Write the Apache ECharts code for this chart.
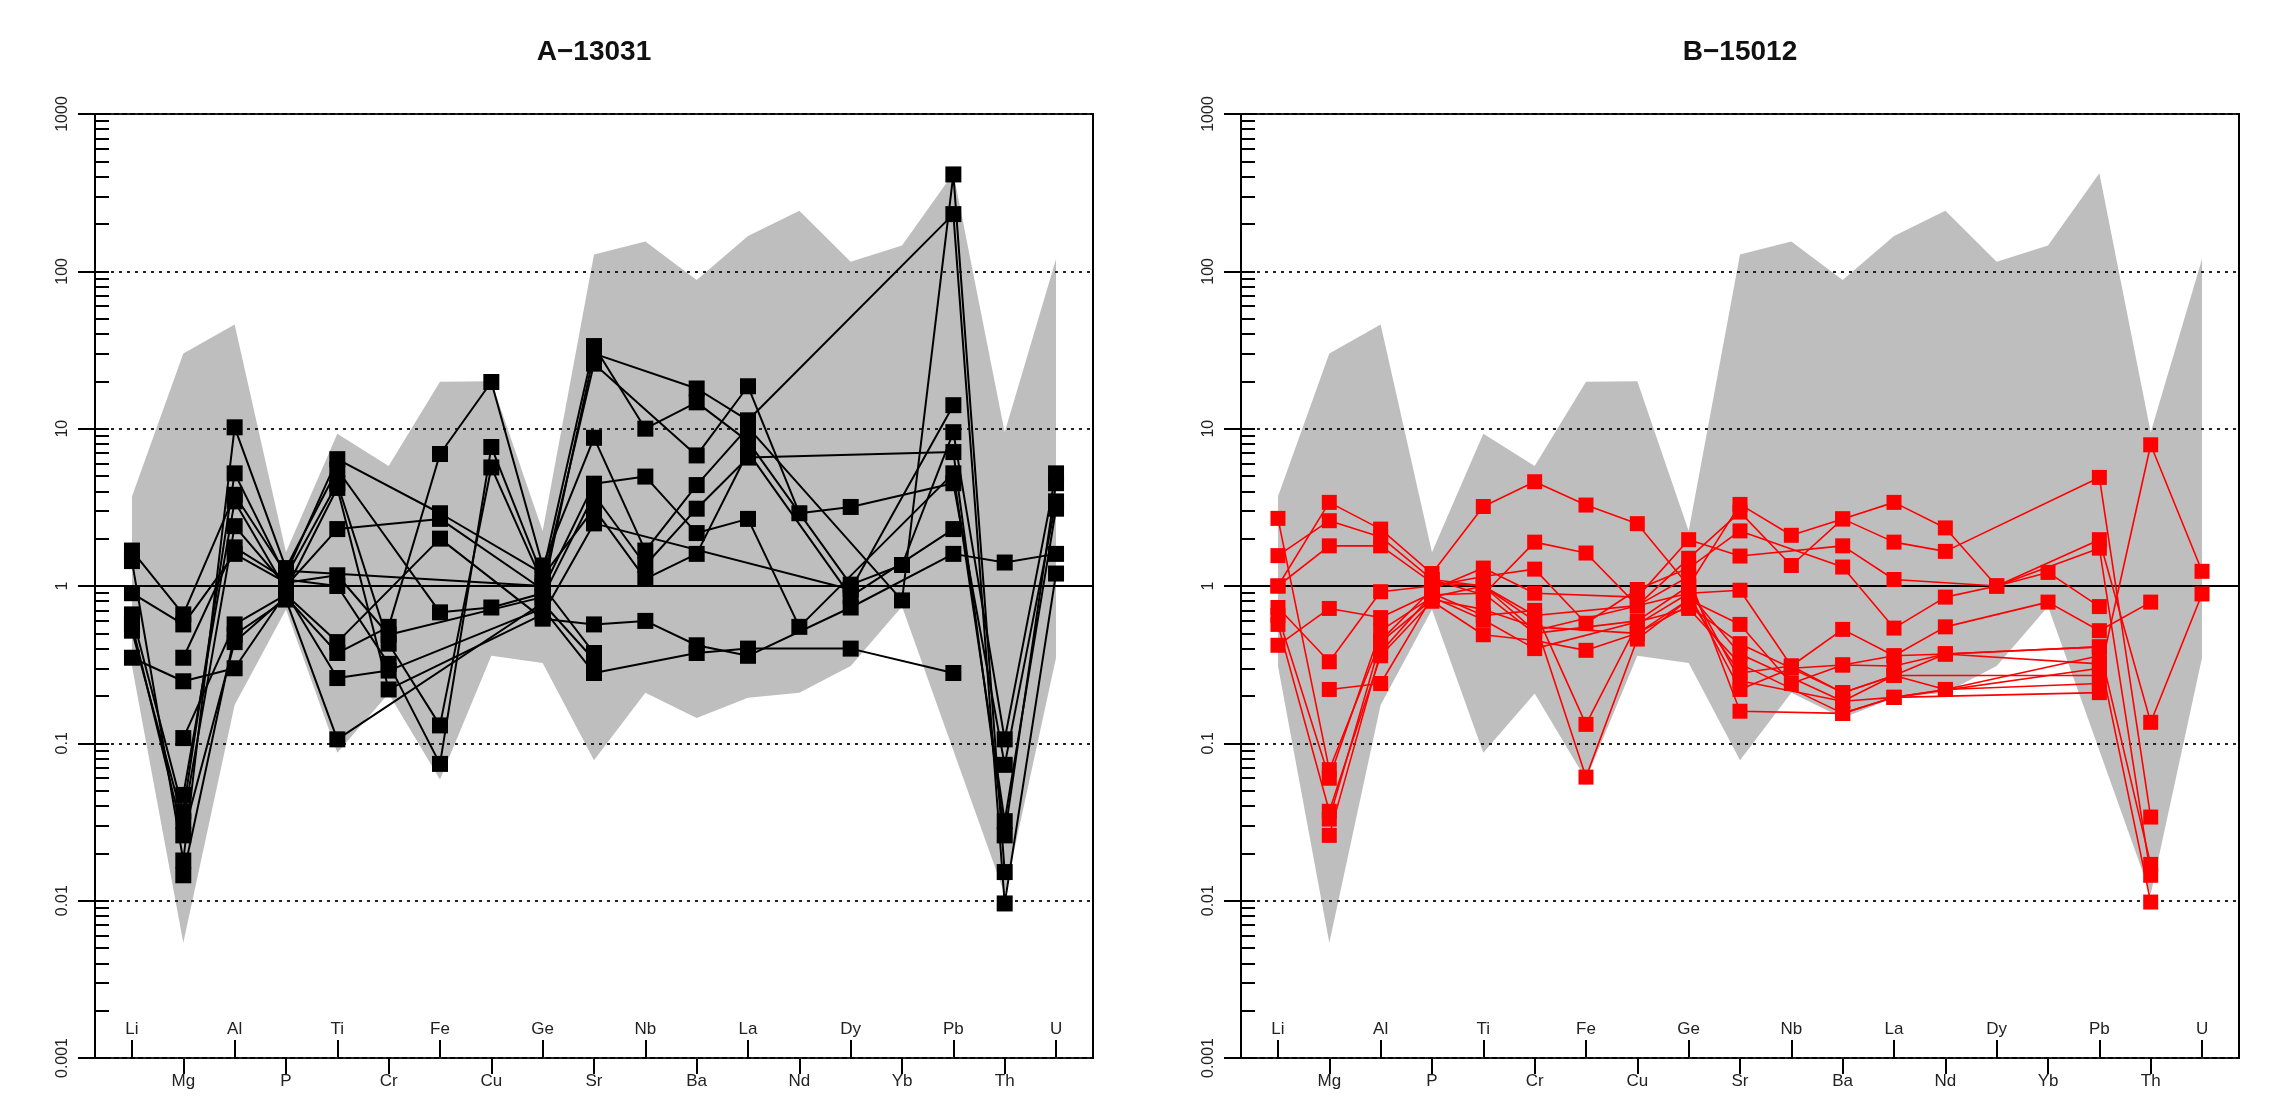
<!DOCTYPE html>
<html>
<head>
<meta charset="utf-8">
<script src="https://cdn.jsdelivr.net/npm/echarts@6/dist/echarts.min.js"></script>
<style>
html, body { margin: 0; padding: 0; background: #fff; }
#chart { width: 2273px; height: 1106px; }
</style>
</head>
<body>
<div id="chart"></div>
<script>
// elements along the x axis (odd ones labelled above the axis, even ones below)
const elements = ['Li', 'Mg', 'Al', 'P', 'Ti', 'Cr', 'Fe', 'Cu', 'Ge', 'Sr', 'Nb', 'Ba', 'La', 'Nd', 'Dy', 'Yb', 'Pb', 'Th', 'U']
const yTickLabels = ['0.001', '0.01', '0.1', '1', '10', '100', '1000']
const panelTitles = ['A\u221213031', 'B\u221215012']

// grey reference envelope (same in both panels)
const envelopeUpper = [3.7, 30, 46, 1.64, 9.3, 5.8, 19.9, 20, 2.24, 128, 155, 88, 168, 243, 115, 146, 420, 9.5, 120]
const envelopeLower = [0.31, 0.0054, 0.175, 0.71, 0.087, 0.207, 0.059, 0.36, 0.324, 0.078, 0.21, 0.145, 0.195, 0.21, 0.31, 0.74, 0.09, 0.011, 0.35]

// A-13031 samples (black), one row per sample, null = not measured
const samplesA = [
    [1.68, 0.66, 3.8, 1.2, 6.4, null, 2.9, null, 1.2, 33.5, 10, 14.7, 8.3, null, 1.02, 1.36, 9.5, 0.106, 5.2],
    [1.44, 0.018, 10.2, 1.3, 5.5, null, 0.68, 0.73, 0.9, 30, null, 18, 11.3, null, null, null, 231, 0.0096, 1.2],
    [0.9, 0.57, 1.6, 1.05, 1.17, 0.49, null, null, 0.85, 3.8, 1.36, 3.1, 6.55, null, null, null, 7.1, 0.026, 4.5],
    [0.66, 0.037, 5.2, 1.15, 4.5, 0.43, 0.13, 5.67, 1.05, 25.9, null, 6.76, 18.6, 2.9, 3.18, null, 4.5, 0.073, 3.45],
    [0.57, 0.026, 0.44, 0.85, 0.375, 0.55, 6.9, 19.8, 1.35, 8.75, 1.68, 4.38, 10.2, null, null, 0.81, 413, 0.0152, null],
    [0.52, 0.032, 2.4, 1.0, 2.3, null, 2.67, null, 0.95, 4.47, 4.96, 2.17, 2.67, 0.55, null, null, 5.2, 0.032, 3.1],
    [0.35, 0.248, 0.30, 0.9, 0.26, 0.29, null, null, 0.72, 0.28, null, 0.375, 0.40, null, 0.40, null, 0.28, null, null],
    [null, 0.35, 1.76, 1.1, 1.0, 0.32, 0.074, 7.65, 1.15, 3.1, 1.11, 1.6, 7.1, null, 0.86, null, 2.3, null, null],
    [null, 0.108, 0.57, 0.88, 0.44, null, 2.0, null, 0.62, 0.57, 0.6, 0.42, 0.36, null, 0.73, null, 1.6, 1.41, 1.6],
    [null, 0.047, 3.45, 0.95, 4.2, 0.22, null, null, 0.66, 2.5, null, null, null, null, 0.95, null, 14.1, null, null],
    [null, 0.0145, 0.49, 0.82, 0.106, null, null, null, 0.78, 0.34, null, null, null, null, null, null, null, null, null],
    [null, null, null, 1.25, null, null, null, null, 1.0, 0.375, null, null, null, null, null, null, null, null, null],
]

// B-15012 samples (red)
const samplesB = [
    [1.0, 3.4, 2.3, 1.2, 3.2, 4.6, 3.27, 2.49, 1.0, 3.3, 2.1, 2.67, 3.4, 2.34, 1.0, 1.22, 0.74, null, null],
    [1.56, 2.6, 2.05, 1.1, 0.88, 1.9, 1.62, 0.75, 1.5, 2.95, 1.35, 2.67, 1.9, 1.66, null, null, 4.9, 0.034, null],
    [0.73, 0.33, 0.92, 1.0, 1.15, 1.28, 0.58, 0.95, 1.3, 2.24, null, 1.32, 0.54, 0.85, 1.0, null, 1.97, 0.136, 0.89],
    [2.69, 0.068, 0.45, 0.95, 1.3, 0.9, null, 0.85, 1.97, 1.55, null, 1.8, 1.1, null, 1.0, null, 1.74, 0.0145, null],
    [0.42, 0.72, 0.63, 0.9, 0.65, 0.7, 0.132, 0.57, 0.9, 0.94, 0.31, 0.53, 0.36, 0.55, null, 0.79, 0.52, 0.79, null],
    [0.65, 0.06, 0.52, 0.85, 1.0, 0.6, 0.061, 0.46, 0.82, 0.57, 0.24, 0.315, 0.31, 0.37, null, null, 0.41, 0.017, null],
    [0.57, 0.037, 0.36, 0.8, 0.49, 0.45, 0.39, 0.5, 0.75, 0.43, null, 0.21, 0.27, 0.22, null, null, 0.36, 0.0098, null],
    [1.0, 1.8, 1.8, 1.05, 1.0, 0.52, null, null, 0.9, 0.37, null, 0.185, 0.196, null, null, null, 0.3, null, null],
    [null, 0.22, 0.24, 0.85, 0.61, 0.4, null, null, 0.72, 0.32, null, 0.155, 0.196, 0.22, null, null, 0.24, null, null],
    [null, 0.033, 0.44, 0.82, 0.71, 0.55, null, 0.5, 0.82, 0.28, 0.31, 0.21, 0.27, null, null, null, 0.27, 7.9, 1.24],
    [null, 0.026, 0.38, 0.88, 0.9, 0.5, null, 0.6, 1.0, 0.25, null, 0.185, 0.27, 0.37, null, null, 0.32, null, null],
    [null, null, null, 1.1, 1.0, 0.65, null, 0.75, 1.15, 0.16, null, 0.155, 0.196, null, null, null, 0.21, null, null],
    [null, null, null, null, null, null, null, null, 0.9, 0.22, 0.3, 0.315, 0.36, 0.37, null, null, 0.41, null, null],
]

const panelSamples = [samplesA, samplesB]
const panelColors = ['#000000', '#ff0000']

const font = 'Liberation Sans, Arial, Helvetica, sans-serif'
const gridLefts = [95, 1241]
const gridWidth = 998
const oddTicks = elements.map((e, i) => i + 1).filter(v => v % 2 === 1)
const evenTicks = elements.map((e, i) => i + 1).filter(v => v % 2 === 0)
// inner log ticks: 1..9 x 10^d, as exponents
let innerTicks = []
for (let d = -3; d < 3; d++) {
    for (let k = 1; k < 10; k++) innerTicks.push(d + Math.log10(k))
}
innerTicks.push(3)

const blackLine = { color: '#000', width: 2 }

let grids = [], xAxes = [], yAxes = [], titles = [], series = []

gridLefts.forEach((left, g) => {
    grids.push({ left: left, top: 114, width: gridWidth, height: 944, show: true, borderColor: '#000', borderWidth: 2 })
    titles.push({
        text: panelTitles[g], left: left + gridWidth / 2, top: 38, textAlign: 'center', padding: 0,
        textStyle: { fontFamily: font, fontSize: 28, fontWeight: 'bold', color: '#111' }
    })

    const xCommon = {
        type: 'value', gridIndex: g, min: 0.28, max: 19.72, position: 'bottom',
        splitLine: { show: false },
        axisLine: { show: true, onZero: false, lineStyle: blackLine },
    }
    xAxes.push(Object.assign({}, xCommon, {
        axisTick: { show: true, inside: true, length: 18, customValues: oddTicks, lineStyle: blackLine },
        axisLabel: {
            show: true, inside: true, margin: 20, customValues: oddTicks,
            formatter: v => elements[Math.round(v) - 1],
            fontFamily: font, fontSize: 17, color: '#222'
        },
    }))
    xAxes.push(Object.assign({}, xCommon, {
        axisTick: { show: true, inside: false, length: 16, customValues: evenTicks, lineStyle: blackLine },
        axisLabel: {
            show: true, margin: 15, customValues: evenTicks,
            formatter: v => elements[Math.round(v) - 1],
            fontFamily: font, fontSize: 17, color: '#222'
        },
    }))

    yAxes.push({
        type: 'log', logBase: 10, gridIndex: g, min: 0.001, max: 1000, splitNumber: 6,
        position: 'left', z: 2,
        axisLine: { show: true, onZero: false, lineStyle: blackLine },
        axisTick: { show: true, inside: false, length: 17, lineStyle: blackLine },
        axisLabel: {
            rotate: 90, margin: 24, fontFamily: font, fontSize: 16, color: '#222',
            formatter: v => yTickLabels[Math.round(Math.log10(v)) + 3]
        },
        splitLine: { show: true, lineStyle: { color: '#222', width: 2, type: [3, 5] } },
    })
    yAxes.push({
        type: 'value', gridIndex: g, min: -3, max: 3, position: 'left', z: 2,
        axisLine: { show: false, onZero: false },
        axisLabel: { show: false },
        splitLine: { show: false },
        axisTick: { show: true, inside: true, length: 14, customValues: innerTicks, lineStyle: blackLine },
    })

    // grey envelope polygon, drawn through the axes
    series.push({
        type: 'custom', xAxisIndex: 2 * g, yAxisIndex: 2 * g, z: 1, silent: true,
        data: [[1, 1]],
        renderItem: (params, api) => {
            let pts = []
            envelopeUpper.forEach((v, i) => pts.push(api.coord([i + 1, v])))
            for (let i = envelopeLower.length - 1; i >= 0; i--) pts.push(api.coord([i + 1, envelopeLower[i]]))
            return { type: 'polygon', shape: { points: pts }, style: { fill: '#bebebe' } }
        }
    })

    panelSamples[g].forEach((row, s) => {
        let data = []
        row.forEach((v, i) => { if (v !== null) data.push([i + 1, v]) })
        let item = {
            type: 'line', xAxisIndex: 2 * g, yAxisIndex: 2 * g, z: 5,
            data: data,
            symbol: 'rect', symbolSize: g === 0 ? 16 : 15,
            showAllSymbol: true,
            itemStyle: { color: panelColors[g] },
            lineStyle: { color: panelColors[g], width: g === 0 ? 2 : 1.6 },
            silent: true,
        }
        if (s === 0) {
            item.markLine = {
                silent: true, symbol: ['none', 'none'], label: { show: false },
                lineStyle: { color: '#000', width: 2, type: 'solid' },
                data: [{ yAxis: 1 }]
            }
        }
        series.push(item)
    })
})

const chart = echarts.init(document.getElementById('chart'), null, { renderer: 'canvas' })
chart.setOption({
    animation: false,
    backgroundColor: '#ffffff',
    title: titles,
    grid: grids,
    xAxis: xAxes,
    yAxis: yAxes,
    series: series,
})
</script>
</body>
</html>
